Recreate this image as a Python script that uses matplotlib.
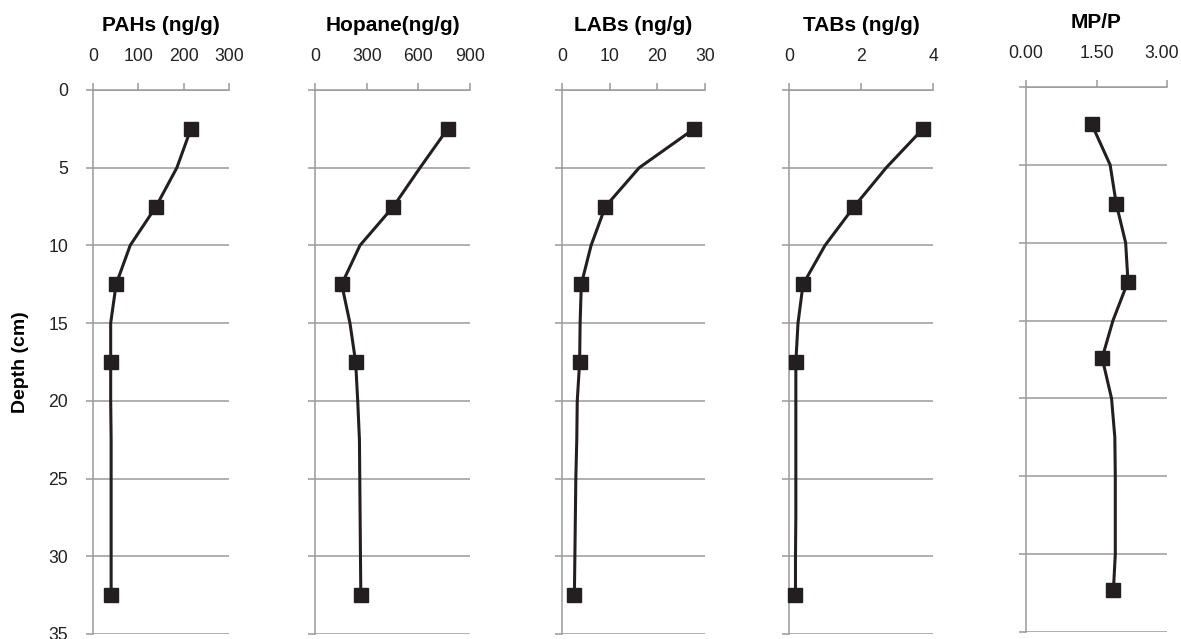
import matplotlib
matplotlib.use("Agg")
import matplotlib.pyplot as plt
from matplotlib.transforms import ScaledTranslation

plt.rcParams['font.family'] = ['Liberation Sans', 'DejaVu Sans']

# depth of every sample (cm), markers only on some of them
depth = [2.5, 5, 7.5, 10, 12.5, 15, 17.5, 20, 22.5, 25, 27.5, 30, 32.5]
marker_idx = [0, 2, 4, 6, 12]

pahs = [216, 185, 139, 82, 51, 39, 39, 39, 40, 40, 40, 40, 40]
hopane = [770, 610, 455, 261, 155, 203, 236, 248, 258, 260, 262, 264, 266]
labs = [27.7, 16.2, 9.1, 6.1, 4.05, 3.8, 3.7, 3.2, 3.1, 2.9, 2.8, 2.7, 2.6]
tabs = [3.72, 2.70, 1.81, 1.0, 0.39, 0.25, 0.19, 0.19, 0.19, 0.19, 0.19, 0.18, 0.18]
mpp = [1.40, 1.79, 1.92, 2.12, 2.17, 1.85, 1.62, 1.82, 1.89, 1.90, 1.90, 1.90, 1.86]
mpp_depth = [2.4, 5, 7.5, 10, 12.5, 15, 17.4, 20, 22.5, 25, 27.5, 30, 32.3]

titles = ["PAHs (ng/g)", "Hopane(ng/g)", "LABs (ng/g)", "TABs (ng/g)", "MP/P"]
series = [pahs, hopane, labs, tabs, mpp]
depths = [depth, depth, depth, depth, mpp_depth]
xticks = [[0, 100, 200, 300], [0, 300, 600, 900], [0, 10, 20, 30], [0, 2, 4], [0, 1.5, 3.0]]
xticklabels = [["0", "100", "200", "300"], ["0", "300", "600", "900"],
               ["0", "10", "20", "30"], ["0", "2", "4"], ["0.00", "1.50", "3.00"]]

W, H = 1181, 639
# panel boxes in pixels: left, right, top, bottom
boxes = [(93, 229, 90, 634), (315, 470, 90, 634), (562, 705, 90, 634),
         (789, 933, 90, 634), (1026, 1167, 87, 632)]

grid_c = "#9a9a9a"
ink = "#231f20"

fig = plt.figure(figsize=(W / 100, H / 100), dpi=100)

for i in range(5):
    l, r, t, b = boxes[i]
    ax = fig.add_axes([l / W, 1 - b / H, (r - l) / W, (b - t) / H])
    d = depths[i]
    v = series[i]
    ax.plot(v, d, color=ink, lw=2.2, zorder=3, clip_on=False)
    ax.plot([v[k] for k in marker_idx], [d[k] for k in marker_idx], ls="none",
            marker="s", ms=10, color=ink, zorder=4, clip_on=False)

    ax.set_xlim(xticks[i][0], xticks[i][-1])
    ax.set_ylim(35, 0)
    ax.xaxis.tick_top()
    ax.set_xticks(xticks[i])
    ax.set_xticklabels(xticklabels[i])
    ax.set_yticks(range(0, 36, 5))
    ax.grid(axis="y", color=grid_c, lw=1.1)
    ax.set_axisbelow(True)
    for s in ["right", "bottom"]:
        ax.spines[s].set_visible(False)
    for s in ["left", "top"]:
        ax.spines[s].set_color(grid_c)
        ax.spines[s].set_linewidth(1.1)
    ax.tick_params(axis="both", color=grid_c, width=1.1, length=5,
                   labelsize=12.7, labelcolor="#222222")
    ax.tick_params(axis="x", pad=13)
    ax.tick_params(axis="y", pad=13)
    if i > 0:
        ax.set_yticklabels([])
    else:
        ax.set_ylabel("Depth (cm)", fontsize=14, fontweight="bold", labelpad=14)
    if i == 4:
        # last label sits a little left so it stays inside the figure
        lab = ax.get_xticklabels()[-1]
        lab.set_transform(lab.get_transform() + ScaledTranslation(-5 / 100, 0, fig.dpi_scale_trans))
    ax.set_title(titles[i], fontsize=15, fontweight="bold", pad=12)

fig.savefig("out.png", dpi=100)
